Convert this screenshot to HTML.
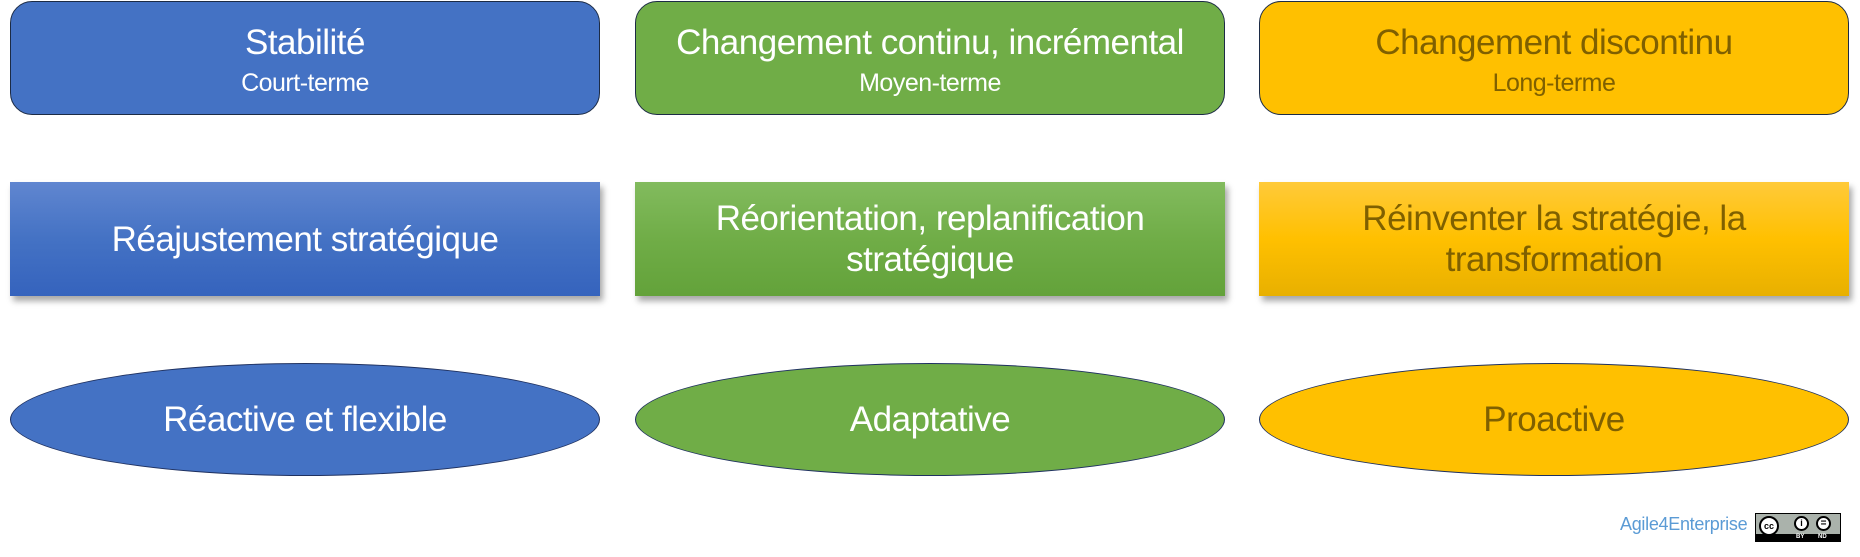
<!DOCTYPE html>
<html><head><meta charset="utf-8"><style>
body{margin:0;width:1860px;height:557px;background:#fff;position:relative;overflow:hidden;font-family:"Liberation Sans",sans-serif}
.b{position:absolute;box-sizing:border-box;display:flex;flex-direction:column;align-items:center;justify-content:center;text-align:center;letter-spacing:-0.5px}
.r1{top:1px;height:114px;border-radius:22px;border:1.5px solid #1c2b45;padding-top:7px}
.r2{top:182px;height:114px;box-shadow:3px 5px 6px rgba(0,0,0,.35);font-size:35px;line-height:41px}
.r3{top:363px;height:113px;border-radius:50%;border:1.5px solid #1f3160;font-size:35px}
.t{font-size:35px;line-height:42px}.s{font-size:25px;line-height:38px}
.c1{left:10px;width:590px}.c2{left:635px;width:590px}.c3{left:1259px;width:590px}
.bl{background:#4472c4;color:#fff}.gr{background:#70ad47;color:#fff}.go{background:#ffc000;color:#7f6000}
.bl2{background:linear-gradient(#6086d0,#4472c4 50%,#3563bd);color:#fff}
.gr2{background:linear-gradient(#82bb5e,#70ad47 50%,#63a23a);color:#fff}
.go2{background:linear-gradient(#ffca3a,#ffc000 50%,#e8b000);color:#7f6000}
</style></head><body>
<div class="b r1 c1 bl"><div class="t">Stabilité</div><div class="s">Court-terme</div></div>
<div class="b r1 c2 gr"><div class="t">Changement continu, incrémental</div><div class="s">Moyen-terme</div></div>
<div class="b r1 c3 go"><div class="t">Changement discontinu</div><div class="s">Long-terme</div></div>
<div class="b r2 c1 bl2">Réajustement stratégique</div>
<div class="b r2 c2 gr2">Réorientation, replanification<br>stratégique</div>
<div class="b r2 c3 go2">Réinventer la stratégie, la<br>transformation</div>
<div class="b r3 c1 bl">Réactive et flexible</div>
<div class="b r3 c2 gr">Adaptative</div>
<div class="b r3 c3 go">Proactive</div>
<div style="position:absolute;left:1620px;top:514px;font-size:18px;color:#5b9bd5;letter-spacing:-0.3px">Agile4Enterprise</div>
<div style="position:absolute;left:1755px;top:513px;width:86px;height:29px;background:#aab2ab;border:1.5px solid #000;box-sizing:border-box">
<div style="position:absolute;left:0;right:0;bottom:0;height:7px;background:#000;color:#fff;font-size:6px;font-weight:bold;line-height:7px"><span style="position:absolute;left:40px">BY</span><span style="position:absolute;left:62px">ND</span></div>
<div style="position:absolute;left:3px;top:2px;width:20px;height:20px;border-radius:50%;background:#fff;border:2px solid #000;box-sizing:border-box;font-size:9px;font-weight:bold;line-height:16px;text-align:center">cc</div>
<div style="position:absolute;left:38px;top:2px;width:15px;height:15px;border-radius:50%;background:#fff;border:2px solid #000;box-sizing:border-box;font-size:9px;font-weight:bold;line-height:11px;text-align:center">i</div>
<div style="position:absolute;left:60px;top:2px;width:15px;height:15px;border-radius:50%;background:#fff;border:2px solid #000;box-sizing:border-box;font-size:10px;font-weight:bold;line-height:11px;text-align:center">=</div>
</div>
</body></html>
